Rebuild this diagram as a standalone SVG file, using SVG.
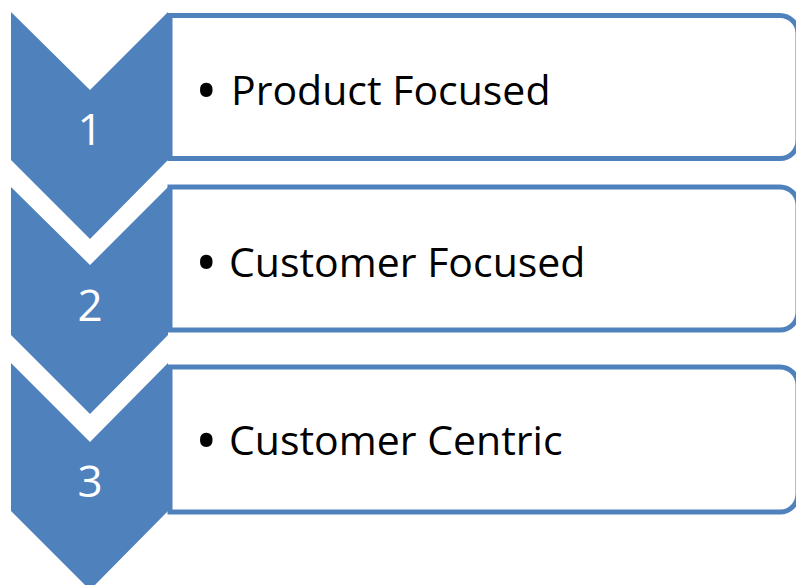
<svg xmlns="http://www.w3.org/2000/svg" width="796" height="585" viewBox="0 0 796 585">
  <style>
    .box { fill: #ffffff; stroke: #4F81BD; stroke-width: 5; }
    .chev { fill: #4F81BD; stroke: none; }
    .num { font-family: "Open Sans", "Liberation Sans", sans-serif; font-size: 44px; fill: #ffffff; text-anchor: middle; }
    .lbl { font-family: "Open Sans", "Liberation Sans", sans-serif; font-size: 41px; fill: #000000; }
    .bul { font-size: 60px; }
  </style>
  <rect width="796" height="585" fill="#ffffff"/>
  <g id="connectors"></g>
  <g id="step1">
    <path class="box" d="M170,15.5 H780 A18,18 0 0 1 798,33.5 V140.5 A18,18 0 0 1 780,158.5 H170 Z"/>
    <polygon class="chev" points="11,12 90,90 168,12 168,160 90,239 11,160"/>
    <text class="num" x="90" y="145">1</text>
    <text class="lbl" y="105"><tspan class="bul" x="195" dy="7">•</tspan><tspan x="231" dy="-7">Product Focused</tspan></text>
  </g>
  <g id="step2">
    <path class="box" d="M170,187 H780 A18,18 0 0 1 798,205 V312 A18,18 0 0 1 780,330 H170 Z"/>
    <polygon class="chev" points="11,187 90,265 168,187 168,335 90,414 11,335"/>
    <text class="num" x="90" y="321">2</text>
    <text class="lbl" y="277"><tspan class="bul" x="195" dy="7">•</tspan><tspan x="229" dy="-7">Customer Focused</tspan></text>
  </g>
  <g id="step3">
    <path class="box" d="M170,367 H780 A18,18 0 0 1 798,385 V494 A18,18 0 0 1 780,512 H170 Z"/>
    <polygon class="chev" points="11,363 90,442 168,363 168,511 90,590 11,511"/>
    <text class="num" x="90" y="497">3</text>
    <text class="lbl" y="455"><tspan class="bul" x="195" dy="7">•</tspan><tspan x="229" dy="-7">Customer Centric</tspan></text>
  </g>
</svg>
